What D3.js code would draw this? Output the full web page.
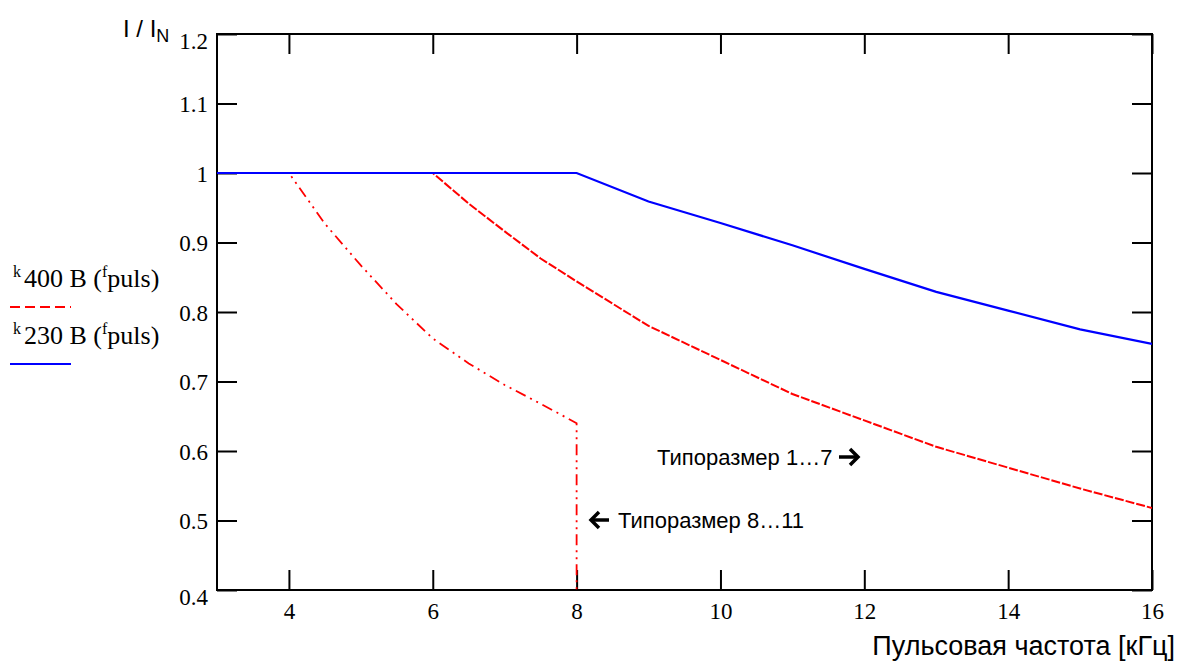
<!DOCTYPE html>
<html><head><meta charset="utf-8">
<script src="https://cdn.jsdelivr.net/npm/d3@7"></script>
<style>
html,body{margin:0;padding:0;background:#fff;}
svg{display:block;}
.serif{font-family:"Liberation Serif","LiberationSerif","Tinos","Times New Roman","DejaVu Serif",serif;}
.sans{font-family:"Liberation Sans","Arimo",Arial,"DejaVu Sans",sans-serif;}
</style></head>
<body>
<svg id="c" width="1178" height="666"></svg>
<script>
// ---- data ----
const xTicks = [4, 6, 8, 10, 12, 14, 16];
const yTicks = [0.4, 0.5, 0.6, 0.7, 0.8, 0.9, 1.0, 1.1, 1.2];
const yTickLabels = ["0.4", "0.5", "0.6", "0.7", "0.8", "0.9", "1", "1.1", "1.2"];

// 230 V, sizes 1..7 (blue solid)
const freq230 = [3, 8, 9, 10, 11, 12, 13, 14, 15, 16];
const k230    = [1, 1, 0.959, 0.928, 0.896, 0.862, 0.829, 0.802, 0.775, 0.754];

// 400 V, sizes 1..7 (red dashed)
const freq400 = [3, 6, 6.5, 7, 7.5, 8, 9, 10, 11, 12, 13, 14, 15, 16];
const k400    = [1, 1, 0.956, 0.916, 0.877, 0.844, 0.780, 0.731, 0.682, 0.644, 0.606, 0.576, 0.546, 0.518];

// 400 V, sizes 8..11 (red dash-dot)
const freq400L = [3, 4, 4.5, 5, 5.5, 6, 6.5, 7, 7.5, 8, 8];
const k400L    = [1, 1, 0.927, 0.867, 0.811, 0.762, 0.726, 0.695, 0.668, 0.640, 0.4];

const yAxisTitle = "I / I";
const yAxisSub = "N";
const xAxisTitle = "Пульсовая частота [кГц]";
const legendItems = [
  {sup: "k", main: "400 B (", sup2: "f", tail: "puls)", color: "#ff0000", dash: "10,5"},
  {sup: "k", main: "230 B (", sup2: "f", tail: "puls)", color: "#0000ff", dash: null}
];
const annot1 = "Типоразмер 1…7";
const annot2 = "Типоразмер 8…11";

// ---- drawing ----
const SERIF = '"Liberation Serif","Tinos","Times New Roman","DejaVu Serif",serif';
const svg = d3.select("#c");
const L = 217, R = 1152, T = 34, B = 590;
const x = d3.scaleLinear().domain([3, 16]).range([L, R]);
const y = d3.scaleLinear().domain([0.4, 1.2]).range([B, T]);

// axes with inward ticks
const gB = svg.append("g").attr("transform", `translate(0,${B})`)
  .call(d3.axisBottom(x).tickValues(xTicks).tickSize(-20).tickPadding(13).tickFormat(d3.format("d")));
const gT = svg.append("g").attr("transform", `translate(0,${T})`)
  .call(d3.axisTop(x).tickValues(xTicks).tickSize(-20).tickFormat(""));
const gLft = svg.append("g").attr("transform", `translate(${L},0)`)
  .call(d3.axisLeft(y).tickValues(yTicks).tickSize(-20).tickPadding(9).tickFormat((d, i) => yTickLabels[i]));
const gRt = svg.append("g").attr("transform", `translate(${R},0)`)
  .call(d3.axisRight(y).tickValues(yTicks).tickSize(-20).tickFormat(""));
[gB, gT, gLft, gRt].forEach(g => {
  g.attr("font-family", null).attr("font-size", null);
  g.select(".domain").remove();
  g.selectAll(".tick line").attr("stroke", "#000").attr("stroke-width", 2);
  g.selectAll(".tick text").style("font-family", SERIF).style("font-size", "23px").attr("fill", "#000");
});
gB.selectAll(".tick text").attr("dy", "0.71em");
gLft.selectAll(".tick text").attr("dy", d => (d === 1.2 || d === 0.4) ? "0.62em" : "0.35em");

// frame
svg.append("rect").attr("x", L).attr("y", T).attr("width", R - L).attr("height", B - T)
  .attr("fill", "none").attr("stroke", "#000").attr("stroke-width", 2);

const line = d3.line().x(d => x(d[0])).y(d => y(d[1]));
svg.append("defs").append("clipPath").attr("id", "pc")
  .append("rect").attr("x", L).attr("y", T).attr("width", R - L).attr("height", B - T);
const plot = svg.append("g").attr("clip-path", "url(#pc)");

plot.append("path").datum(d3.zip(freq400, k400)).attr("d", line)
  .attr("fill", "none").attr("stroke", "#ff0000").attr("stroke-width", 2).attr("stroke-dasharray", "9,2");
plot.append("path").datum(d3.zip(freq400L, k400L)).attr("d", line)
  .attr("fill", "none").attr("stroke", "#ff0000").attr("stroke-width", 1.8)
  .attr("stroke-dasharray", "11,5,2,5,2,5");
plot.append("path").datum(d3.zip(freq230, k230)).attr("d", line)
  .attr("fill", "none").attr("stroke", "#0000ff").attr("stroke-width", 2.2);

// y axis title
const yt = svg.append("text").attr("class", "sans").attr("x", 123).attr("y", 37).attr("font-size", 24).attr("fill", "#000");
yt.append("tspan").text(yAxisTitle);
yt.append("tspan").attr("dy", 5).attr("font-size", 18).text(yAxisSub);

// x axis title
svg.append("text").attr("class", "sans").attr("x", 1175).attr("y", 655).attr("text-anchor", "end")
  .attr("font-size", 27).attr("fill", "#000").text(xAxisTitle);

// legend
legendItems.forEach((it, i) => {
  const by = 287 + i * 57;
  const t = svg.append("text").style("font-family", SERIF).attr("x", 13).attr("y", by).attr("font-size", 26).attr("fill", "#000");
  t.append("tspan").attr("font-size", 16).attr("dy", -10).text(it.sup);
  t.append("tspan").attr("dy", 10).attr("dx", 3).text(it.main);
  t.append("tspan").attr("font-size", 16).attr("dy", -10).text(it.sup2);
  t.append("tspan").attr("dy", 10).text(it.tail);
  const ln = svg.append("line").attr("x1", 10).attr("x2", 71).attr("y1", by + 20).attr("y2", by + 20)
    .attr("stroke", it.color).attr("stroke-width", 2);
  if (it.dash) ln.attr("stroke-dasharray", it.dash);
});

// annotations
svg.append("text").attr("class", "sans").attr("x", 657).attr("y", 465).attr("font-size", 22).attr("fill", "#000").text(annot1);
function arrow(x0, x1, yy) {
  const dir = Math.sign(x1 - x0);
  svg.append("line").attr("x1", x0).attr("x2", x1 - dir * 2).attr("y1", yy).attr("y2", yy)
    .attr("stroke", "#000").attr("stroke-width", 3.5);
  svg.append("polyline").attr("points", `${x1 - dir * 8},${yy - 8} ${x1},${yy} ${x1 - dir * 8},${yy + 8}`)
    .attr("fill", "none").attr("stroke", "#000").attr("stroke-width", 3.5);
}
arrow(839, 858, 457);
arrow(609, 591, 520);
svg.append("text").attr("class", "sans").attr("x", 618).attr("y", 528).attr("font-size", 22).attr("fill", "#000").text(annot2);
</script>
</body></html>
